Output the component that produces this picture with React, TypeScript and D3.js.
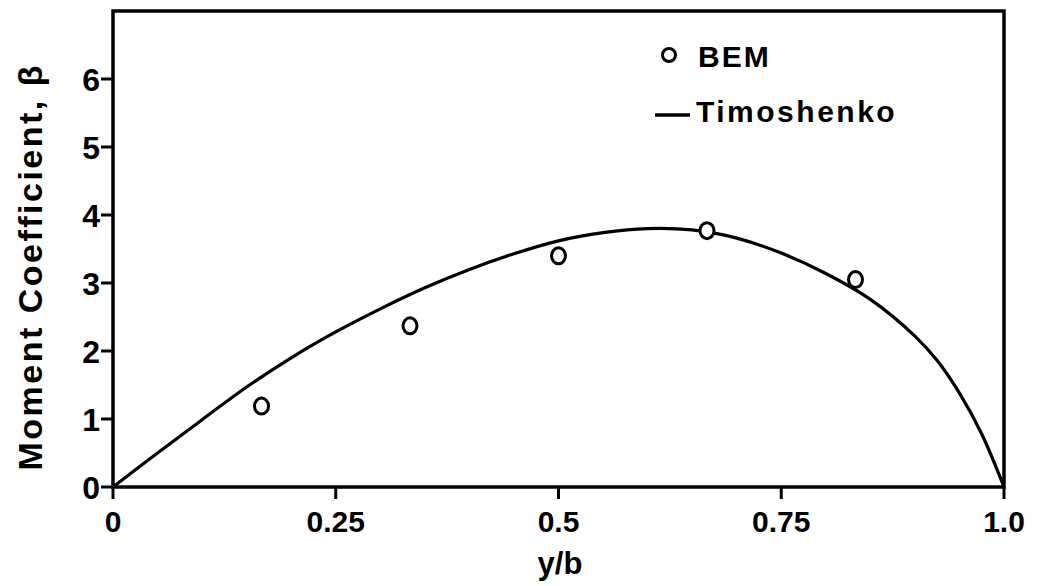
import React from 'react';
import * as d3 from 'd3';

// BEM results (circles)
const bemX = [1 / 6, 2 / 6, 3 / 6, 4 / 6, 5 / 6];
const bemY = [1.19, 2.37, 3.4, 3.77, 3.05];

// Timoshenko solution (solid curve)
const timX = [0, 0.05, 0.1, 0.15, 0.2, 0.25, 0.3, 0.35, 0.4, 0.45, 0.5, 0.55, 0.6, 0.65, 0.7, 0.75, 0.8, 0.85, 0.9, 0.925, 0.95, 0.975, 1.0];
const timY = [0, 0.5, 0.99, 1.47, 1.9, 2.28, 2.62, 2.93, 3.2, 3.43, 3.62, 3.74, 3.8, 3.78, 3.66, 3.44, 3.14, 2.76, 2.22, 1.86, 1.38, 0.78, 0];

const xTicks = [0, 0.25, 0.5, 0.75, 1.0];
const xTickLabels = ['0', '0.25', '0.5', '0.75', '1.0'];
const yTicks = [0, 1, 2, 3, 4, 5, 6];

const W = 1037;
const H = 586;
const FONT = '"Liberation Sans", Arial, sans-serif';

export default function App() {
  const x = d3.scaleLinear().domain([0, 1]).range([113, 1004]);
  const y = d3.scaleLinear().domain([0, 7]).range([487, 11]);

  const line = d3
    .line<number>()
    .x((_, i) => x(timX[i]))
    .y((d) => y(d))
    .curve(d3.curveCatmullRom.alpha(0.5));

  return (
    <svg
      width={W}
      height={H}
      style={{ position: 'absolute', left: 0, top: 0, background: '#fff' }}
      fontFamily={FONT}
    >
      <rect x={0} y={0} width={W} height={H} fill="#fff" />

      {/* frame */}
      <rect
        x={x(0)}
        y={y(7)}
        width={x(1) - x(0)}
        height={y(0) - y(7)}
        fill="none"
        stroke="#000"
        strokeWidth={3.5}
      />

      {/* y ticks */}
      {yTicks.map((t) => (
        <g key={'y' + t}>
          <line x1={x(0) - 12} x2={x(0)} y1={y(t)} y2={y(t)} stroke="#000" strokeWidth={3} />
          <text
            x={x(0) - 13}
            y={y(t) + 11.5}
            textAnchor="end"
            fontSize={32}
            fontWeight="bold"
          >
            {t}
          </text>
        </g>
      ))}

      {/* x ticks */}
      {xTicks.map((t, i) => (
        <g key={'x' + t}>
          <line x1={x(t)} x2={x(t)} y1={y(0)} y2={y(0) + 12} stroke="#000" strokeWidth={3} />
          <text x={x(t)} y={532} textAnchor="middle" fontSize={30} fontWeight="bold">
            {xTickLabels[i]}
          </text>
        </g>
      ))}

      {/* axis titles */}
      <text x={560} y={574} textAnchor="middle" fontSize={31} fontWeight="bold">
        y/b
      </text>
      <text
        transform={`translate(42, ${268}) rotate(-90)`}
        textAnchor="middle"
        fontSize={34}
        fontWeight="bold"
        textLength={405}
        lengthAdjust="spacing"
      >
        Moment  Coefficient, β
      </text>

      {/* Timoshenko curve */}
      <path d={line(timY) || ''} fill="none" stroke="#000" strokeWidth={3.2} />

      {/* BEM circles */}
      {bemX.map((bx, i) => (
        <ellipse
          key={'b' + i}
          cx={x(bx)}
          cy={y(bemY[i])}
          rx={7}
          ry={8}
          fill="#fff"
          stroke="#000"
          strokeWidth={3}
        />
      ))}

      {/* legend */}
      <circle cx={669} cy={55} r={6.5} fill="none" stroke="#000" strokeWidth={3} />
      <text x={698} y={67} fontSize={30} fontWeight="bold" letterSpacing={2}>
        BEM
      </text>
      <line x1={655} x2={690} y1={115} y2={115} stroke="#000" strokeWidth={3.5} />
      <text x={696} y={122} fontSize={30} fontWeight="bold" letterSpacing={2.5}>
        Timoshenko
      </text>
    </svg>
  );
}
